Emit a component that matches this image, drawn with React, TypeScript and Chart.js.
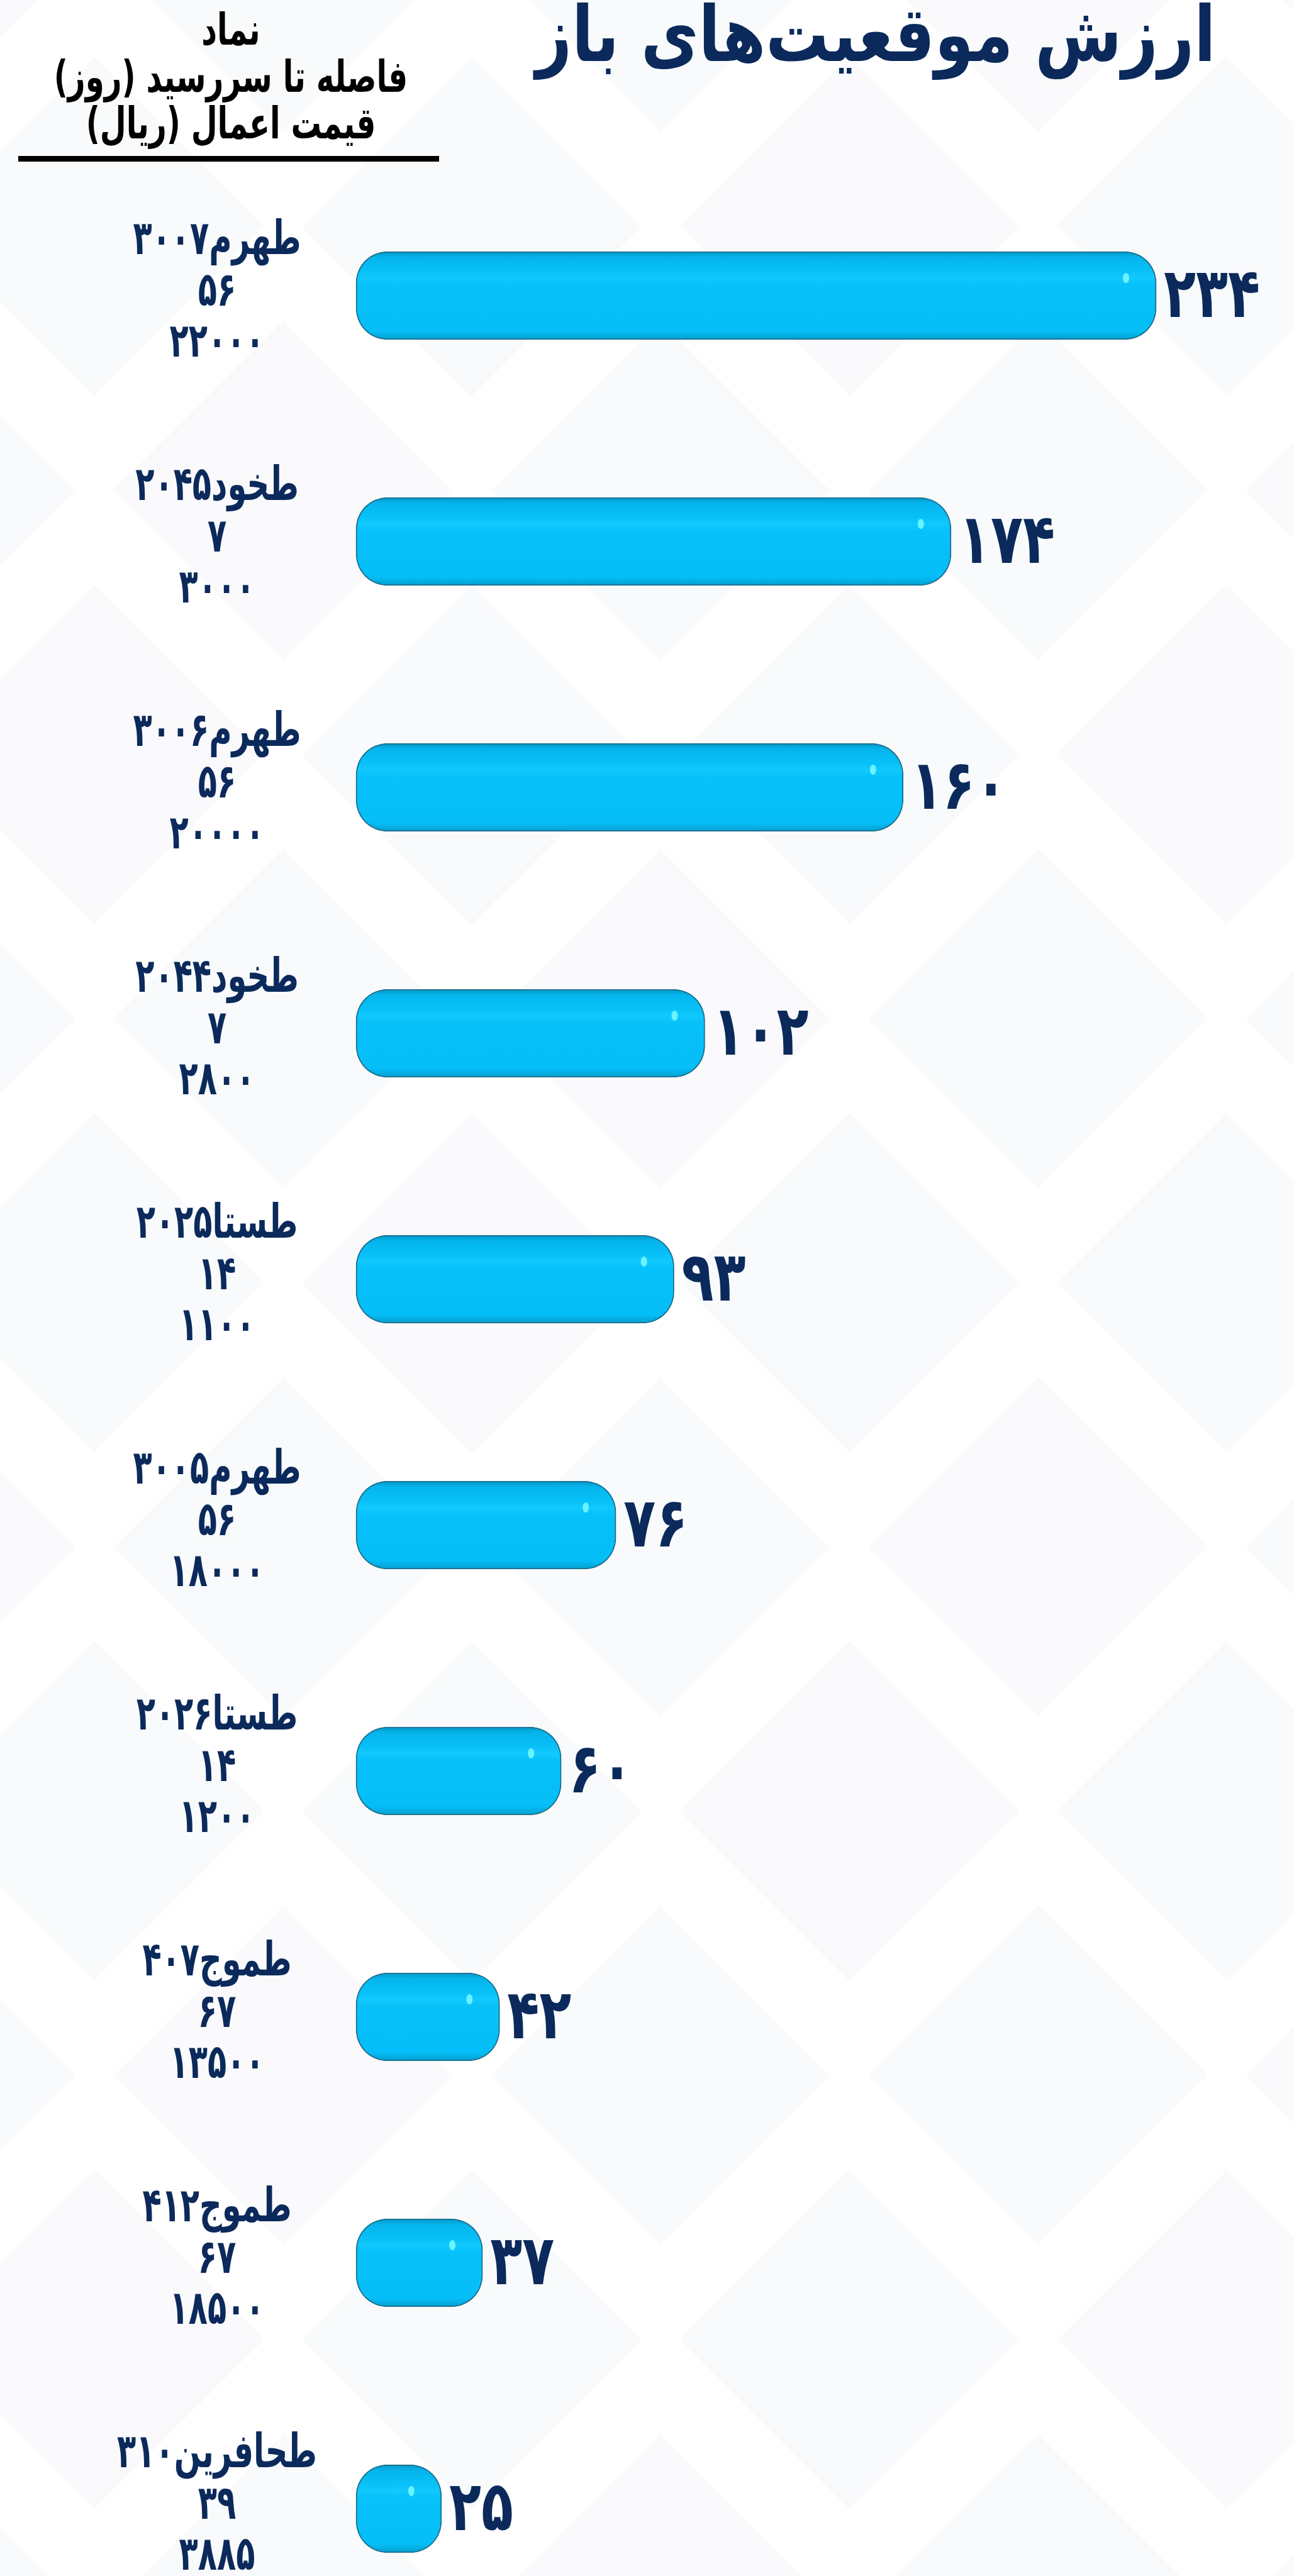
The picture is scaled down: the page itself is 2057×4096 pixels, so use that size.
import React, { useEffect, useRef } from 'react';
import { Chart, registerables } from 'chart.js';

Chart.register(...registerables);

// ---- data ----
const symbols = ['طهرم۳۰۰۷', 'طخود۲۰۴۵', 'طهرم۳۰۰۶', 'طخود۲۰۴۴', 'طستا۲۰۲۵', 'طهرم۳۰۰۵', 'طستا۲۰۲۶', 'طموج۴۰۷', 'طموج۴۱۲', 'طحافرین۳۱۰'];
const daysToMaturity = [56, 7, 56, 7, 14, 56, 14, 67, 67, 39];
const strikePrices = [22000, 3000, 20000, 2800, 1100, 18000, 1200, 13500, 18500, 3885];
const openValues = [234, 174, 160, 102, 93, 76, 60, 42, 37, 25];
const headerLines = ['نماد', 'فاصله تا سررسید (روز)', 'قیمت اعمال (ریال)'];
const titleText = 'ارزش موقعیت‌های باز';
const xMax = 250;

const FA = '۰۱۲۳۴۵۶۷۸۹';
const toFa = (n: number | string) => String(n).replace(/\d/g, (d) => FA[+d]);

const NAVY = '#0b2a5b';
const FONT = '"DejaVu Sans", "Noto Sans", sans-serif';

function drawScaled(
  ctx: CanvasRenderingContext2D,
  text: string,
  x: number,
  y: number,
  font: string,
  color: string,
  sx: number,
  align: CanvasTextAlign,
  dir: CanvasDirection
) {
  ctx.save();
  ctx.font = font;
  ctx.fillStyle = color;
  ctx.textBaseline = 'alphabetic';
  ctx.direction = dir;
  ctx.textAlign = align;
  ctx.translate(x, y);
  ctx.scale(sx, 1);
  ctx.fillText(text, 0, 0);
  ctx.restore();
}

const backgroundPlugin = {
  id: 'bgPattern',
  beforeDraw(chart: any) {
    const ctx: CanvasRenderingContext2D = chart.ctx;
    const W = chart.width;
    const H = chart.height;
    ctx.save();
    ctx.fillStyle = '#ffffff';
    ctx.fillRect(0, 0, W, H);
    const dx = 600;
    const dy = 420;
    const r = 270;
    let row = 0;
    for (let cy = -60; cy < H + dy; cy += dy, row++) {
      const off = row % 2 ? dx / 2 : 0;
      let col = 0;
      for (let cx = -150 + off; cx < W + dx; cx += dx, col++) {
        ctx.beginPath();
        ctx.moveTo(cx, cy - r);
        ctx.lineTo(cx + r, cy);
        ctx.lineTo(cx, cy + r);
        ctx.lineTo(cx - r, cy);
        ctx.closePath();
        ctx.fillStyle = (row + col) % 3 === 0 ? 'rgba(238,234,244,0.28)' : 'rgba(230,237,246,0.28)';
        ctx.fill();
      }
    }
    ctx.restore();
  },
};

const textPlugin = {
  id: 'rowTexts',
  afterDatasetsDraw(chart: any) {
    const ctx: CanvasRenderingContext2D = chart.ctx;
    const ys = chart.scales.y;
    const meta = chart.getDatasetMeta(0);

    // highlights on bars
    meta.data.forEach((bar: any) => {
      const h = 140;
      const top = bar.y - h / 2;
      ctx.save();
      ctx.fillStyle = 'rgba(110,245,255,0.95)';
      ctx.beginPath();
      ctx.ellipse(bar.x - 48, top + 0.3 * h, 5, 8, 0, 0, Math.PI * 2);
      ctx.fill();
      ctx.restore();
    });

    // title
    const tf = `bold 122px ${FONT}`;
    ctx.save();
    ctx.font = tf;
    ctx.direction = 'rtl';
    const tw = ctx.measureText(titleText).width;
    ctx.restore();
    drawScaled(ctx, titleText, 1392, 97, tf, NAVY, 1081 / tw, 'center', 'rtl');

    // header
    const hb = [71, 146, 220];
    headerLines.forEach((t, i) => {
      drawScaled(ctx, t, 367, hb[i], `bold 70px ${FONT}`, '#000000', 0.69, 'center', 'rtl');
    });
    ctx.save();
    ctx.fillStyle = '#000000';
    ctx.fillRect(29, 248, 669, 9);
    ctx.restore();

    // category labels + value labels
    symbols.forEach((s, i) => {
      const yc = ys.getPixelForValue(i);
      const f = `bold 75px ${FONT}`;
      drawScaled(ctx, s, 345, yc - 66, f, NAVY, 0.66, 'center', 'rtl');
      drawScaled(ctx, toFa(daysToMaturity[i]), 345, yc + 16, f, NAVY, 0.66, 'center', 'rtl');
      drawScaled(ctx, toFa(strikePrices[i]), 345, yc + 97, f, NAVY, 0.66, 'center', 'rtl');
      const bar = meta.data[i];
      drawScaled(ctx, toFa(openValues[i]), bar.x + 12, yc + 34, `bold 110px ${FONT}`, NAVY, 0.76, 'left', 'ltr');
    });
  },
};

export default function App() {
  const ref = useRef<HTMLCanvasElement | null>(null);

  useEffect(() => {
    if (!ref.current) return;
    const chart = new Chart(ref.current, {
      type: 'bar',
      data: {
        labels: symbols,
        datasets: [
          {
            data: openValues,
            backgroundColor: (c: any) => {
              const base = '#06bff9';
              if (c.type !== 'data') return base;
              const ys = c.chart.scales && c.chart.scales.y;
              if (!ys) return base;
              const yc = ys.getPixelForValue(c.dataIndex);
              if (!isFinite(yc)) return base;
              const g = c.chart.ctx.createLinearGradient(0, yc - 70, 0, yc + 70);
              g.addColorStop(0, '#0398c8');
              g.addColorStop(0.07, '#05b5ec');
              g.addColorStop(0.22, '#08c0f8');
              g.addColorStop(0.3, '#12c9fd');
              g.addColorStop(0.38, '#07c1fa');
              g.addColorStop(0.9, '#05bef8');
              g.addColorStop(1, '#049fcf');
              return g;
            },
            borderColor: '#1d6f8e',
            borderWidth: 2,
            borderSkipped: false,
            borderRadius: 50,
            barThickness: 140,
            clip: false as any,
          },
        ],
      },
      options: {
        indexAxis: 'y',
        animation: false,
        responsive: false,
        devicePixelRatio: 1,
        layout: { padding: { left: 566, right: 132, top: 470, bottom: 107 } },
        scales: {
          x: { display: false, min: 0, max: xMax, grid: { display: false } },
          y: { display: false, offset: false, grid: { display: false } },
        },
        plugins: {
          legend: { display: false },
          tooltip: { enabled: false },
          title: { display: false },
        },
      },
      plugins: [backgroundPlugin, textPlugin],
    });
    return () => chart.destroy();
  }, []);

  return (
    <div style={{ position: 'absolute', left: 0, top: 0, width: 2057, height: 4096 }}>
      <canvas ref={ref} width={2057} height={4096} style={{ display: 'block', width: 2057, height: 4096 }} />
    </div>
  );
}
